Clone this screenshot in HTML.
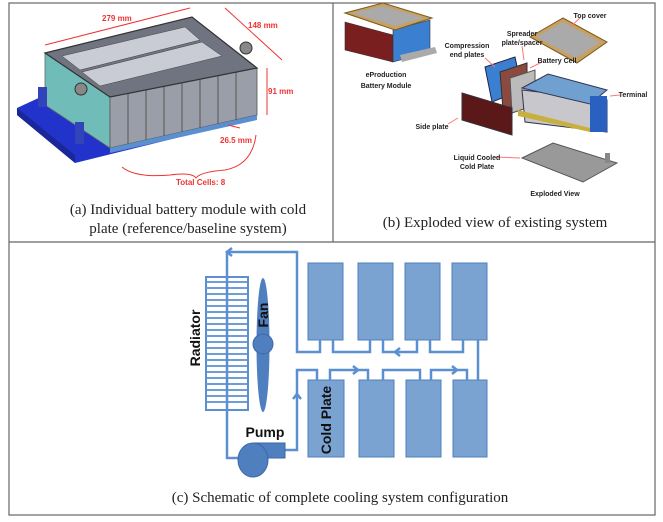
<!DOCTYPE html>
<html><head><meta charset="utf-8"><style>
html,body{margin:0;padding:0;background:#fff;}
svg{display:block;}
.cap{font-family:"Liberation Serif",serif;font-size:15px;fill:#222;}
.lb{font-family:"Liberation Sans",sans-serif;font-weight:bold;font-size:7px;fill:#222;}
.rd{font-family:"Liberation Sans",sans-serif;font-weight:bold;font-size:8px;fill:#e33;}
.sc{font-family:"Liberation Sans",sans-serif;font-weight:bold;font-size:14px;fill:#111;}
</style></head><body>
<svg width="663" height="522" viewBox="0 0 663 522" xmlns="http://www.w3.org/2000/svg">
<rect x="9" y="3" width="646" height="512" fill="none" stroke="#666" stroke-width="1.2"/>
<line x1="333" y1="3" x2="333" y2="242" stroke="#666" stroke-width="1.2"/>
<line x1="9" y1="242" x2="655" y2="242" stroke="#666" stroke-width="1.2"/>

<!-- Panel a -->
<polygon points="17,108 45,95 257,110 257,118 75,163 17,115" fill="#2233cc"/>
<polygon points="17,108 75,155 75,163 17,115" fill="#1a2799"/>
<polygon points="45,53 110,97 110,148 45,105" fill="#6fbcb8" stroke="#666" stroke-width="0.8"/>
<polygon points="110,97 257,68 257,115 110,148" fill="#9a9ea8" stroke="#555" stroke-width="0.8"/>
<polygon points="110,148 257,115 257,120 110,153" fill="#5a8fd0"/>
<g stroke="#555" stroke-width="1">
<line x1="128" y1="94" x2="128" y2="144"/><line x1="146" y1="90" x2="146" y2="140"/><line x1="164" y1="87" x2="164" y2="136"/><line x1="182" y1="83" x2="182" y2="132"/><line x1="200" y1="79" x2="200" y2="128"/><line x1="218" y1="76" x2="218" y2="124"/><line x1="236" y1="72" x2="236" y2="120"/>
</g>
<polygon points="45,53 192,17 257,68 110,97" fill="#707480" stroke="#333" stroke-width="1.2"/>
<g fill="#c9ccd4" stroke="#444" stroke-width="0.5">
<polygon points="62,56 185,27 200,40 80,70"/>
<polygon points="82,72 202,42 222,56 100,86"/>
</g>
<circle cx="246" cy="48" r="6" fill="#888" stroke="#333"/>
<circle cx="81" cy="89" r="6" fill="#888" stroke="#333"/>
<rect x="38" y="87" width="9" height="20" fill="#3344bb"/>
<rect x="75" y="122" width="9" height="22" fill="#3344bb"/>
<g stroke="#e33" stroke-width="1" fill="none">
<line x1="45" y1="45" x2="190" y2="8"/><line x1="225" y1="8" x2="282" y2="60"/><line x1="267" y1="68" x2="267" y2="115"/><line x1="228" y1="125" x2="240" y2="128"/>
<path d="M122,167 Q135,178 170,175 Q192,172 196,178 Q200,172 225,170 Q252,165 256,135"/>
</g>
<text class="rd" x="102" y="21">279 mm</text>
<text class="rd" x="248" y="28">148 mm</text>
<text class="rd" x="268" y="94">91 mm</text>
<text class="rd" x="220" y="143">26.5 mm</text>
<text class="rd" x="176" y="185">Total Cells: 8</text>
<text class="cap" x="188" y="214" text-anchor="middle">(a)  Individual battery module with cold</text>
<text class="cap" x="188" y="233" text-anchor="middle">plate (reference/baseline system)</text>

<!-- Panel b -->
<polygon points="345,22 393,35 393,62 345,50" fill="#7a1f1f" stroke="#333" stroke-width="0.6"/>
<polygon points="393,30 430,20 430,52 393,62" fill="#3a7fd0" stroke="#333" stroke-width="0.6"/>
<polygon points="345,13 383,3 432,18 395,30" fill="#c8a060" stroke="#7a5a20"/>
<polygon points="352,13 383,6 424,18 395,26" fill="#aaa"/>
<polygon points="400,55 435,47 437,53 402,62" fill="#aaa"/>
<text class="lb" x="386" y="77" text-anchor="middle" font-size="8">eProduction</text>
<text class="lb" x="386" y="88" text-anchor="middle" font-size="8">Battery Module</text>
<polygon points="530,37 563,18 607,42 577,63" fill="#c8a060" stroke="#7a5a20"/>
<polygon points="536,37 563,22 600,42 576,58" fill="#aaa"/>
<polygon points="485,67 515,57 522,90 492,102" fill="#3a7fd0" stroke="#224"/>
<polygon points="500,72 527,63 527,100 503,110" fill="#8a4a40" stroke="#333"/>
<polygon points="510,78 535,70 535,105 512,113" fill="#bbb" stroke="#555"/>
<polygon points="522,90 607,100 607,132 525,122" fill="#c8c8cc" stroke="#335"/>
<polygon points="522,88 548,74 607,90 590,104" fill="#6fa0d0" stroke="#335"/>
<rect x="590" y="96" width="17" height="36" fill="#2a60c0"/>
<polygon points="518,110 590,128 590,132 518,116" fill="#c8b040"/>
<polygon points="462,93 512,108 512,135 462,120" fill="#5a1818" stroke="#333"/>
<polygon points="522,158 553,143 617,163 583,182" fill="#999" stroke="#555"/>
<rect x="605" y="153" width="5" height="10" fill="#888"/>
<g stroke="#f77" stroke-width="1">
<line x1="580" y1="18" x2="570" y2="27"/><line x1="522" y1="46" x2="524" y2="60"/><line x1="485" y1="58" x2="495" y2="67"/><line x1="542" y1="62" x2="530" y2="68"/><line x1="620" y1="95" x2="610" y2="96"/><line x1="448" y1="124" x2="458" y2="118"/><line x1="495" y1="157" x2="520" y2="158"/>
</g>
<text class="lb" x="590" y="18" text-anchor="middle">Top cover</text>
<text class="lb" x="522" y="36" text-anchor="middle">Spreader</text>
<text class="lb" x="522" y="45" text-anchor="middle">plate/spacer</text>
<text class="lb" x="467" y="48" text-anchor="middle">Compression</text>
<text class="lb" x="467" y="57" text-anchor="middle">end plates</text>
<text class="lb" x="557" y="63" text-anchor="middle">Battery Cell</text>
<text class="lb" x="633" y="97" text-anchor="middle">Terminal</text>
<text class="lb" x="432" y="129" text-anchor="middle">Side plate</text>
<text class="lb" x="477" y="160" text-anchor="middle">Liquid Cooled</text>
<text class="lb" x="477" y="169" text-anchor="middle">Cold Plate</text>
<text class="lb" x="555" y="196" text-anchor="middle" font-size="8">Exploded View</text>
<text class="cap" x="495" y="227" text-anchor="middle">(b)  Exploded view of existing system</text>

<!-- Panel c -->
<g fill="#7aa3d1" stroke="#4f7fbf" stroke-width="1">
<rect x="308" y="263" width="35" height="77"/><rect x="358" y="263" width="35" height="77"/><rect x="405" y="263" width="35" height="77"/><rect x="452" y="263" width="35" height="77"/>
<rect x="308" y="380" width="36" height="77"/><rect x="359" y="380" width="35" height="77"/><rect x="406" y="380" width="35" height="77"/><rect x="453" y="380" width="34" height="77"/>
</g>
<g fill="none" stroke="#5b8fd0" stroke-width="2.5">
<polyline points="285,450 297,450 297,370 317,370 317,380"/>
<polyline points="330,380 330,370 368,370 368,380"/>
<polyline points="383,380 383,370 420,370 420,380"/>
<polyline points="431,380 431,370 467,370 467,380"/>
<line x1="478" y1="340" x2="478" y2="380"/>
<polyline points="463,340 463,352 430,352 430,340"/>
<polyline points="417,340 417,352 383,352 383,340"/>
<polyline points="370,340 370,352 333,352 333,340"/>
<polyline points="320,340 320,352 297,352 297,252 227,252 227,458 240,458"/>
<path d="M232,248 L227,252 L232,256"/><path d="M400,348 L395,352 L400,356"/><path d="M353,366 L358,370 L353,374"/><path d="M452,366 L457,370 L452,374"/><path d="M293,399 L297,394 L301,399"/>
<rect x="206" y="277" width="42" height="133" stroke-width="2"/>
</g>
<g stroke="#5b8fd0" stroke-width="1.8">
<line x1="206" y1="282" x2="248" y2="282"/><line x1="206" y1="288" x2="248" y2="288"/><line x1="206" y1="294" x2="248" y2="294"/><line x1="206" y1="300" x2="248" y2="300"/><line x1="206" y1="306" x2="248" y2="306"/><line x1="206" y1="312" x2="248" y2="312"/><line x1="206" y1="318" x2="248" y2="318"/><line x1="206" y1="324" x2="248" y2="324"/><line x1="206" y1="330" x2="248" y2="330"/><line x1="206" y1="336" x2="248" y2="336"/><line x1="206" y1="342" x2="248" y2="342"/><line x1="206" y1="348" x2="248" y2="348"/><line x1="206" y1="354" x2="248" y2="354"/><line x1="206" y1="360" x2="248" y2="360"/><line x1="206" y1="366" x2="248" y2="366"/><line x1="206" y1="372" x2="248" y2="372"/><line x1="206" y1="378" x2="248" y2="378"/><line x1="206" y1="384" x2="248" y2="384"/><line x1="206" y1="390" x2="248" y2="390"/><line x1="206" y1="396" x2="248" y2="396"/><line x1="206" y1="402" x2="248" y2="402"/>
</g>
<ellipse cx="263" cy="345" rx="6.5" ry="67" fill="#4f7fbf"/>
<circle cx="263" cy="344" r="10" fill="#4f7fbf" stroke="#3a68a8"/>
<rect x="253" y="443" width="32" height="15" fill="#4f7fbf" stroke="#3a68a8"/>
<ellipse cx="253" cy="460" rx="15" ry="17" fill="#4f7fbf" stroke="#3a68a8"/>
<text class="sc" transform="translate(200,338) rotate(-90)" text-anchor="middle">Radiator</text>
<text class="sc" transform="translate(268,315) rotate(-90)" text-anchor="middle">Fan</text>
<text class="sc" x="265" y="437" text-anchor="middle">Pump</text>
<text class="sc" transform="translate(331,420) rotate(-90)" text-anchor="middle">Cold Plate</text>
<text class="cap" x="340" y="502" text-anchor="middle">(c) Schematic of complete cooling system configuration</text>
</svg>
</body></html>
